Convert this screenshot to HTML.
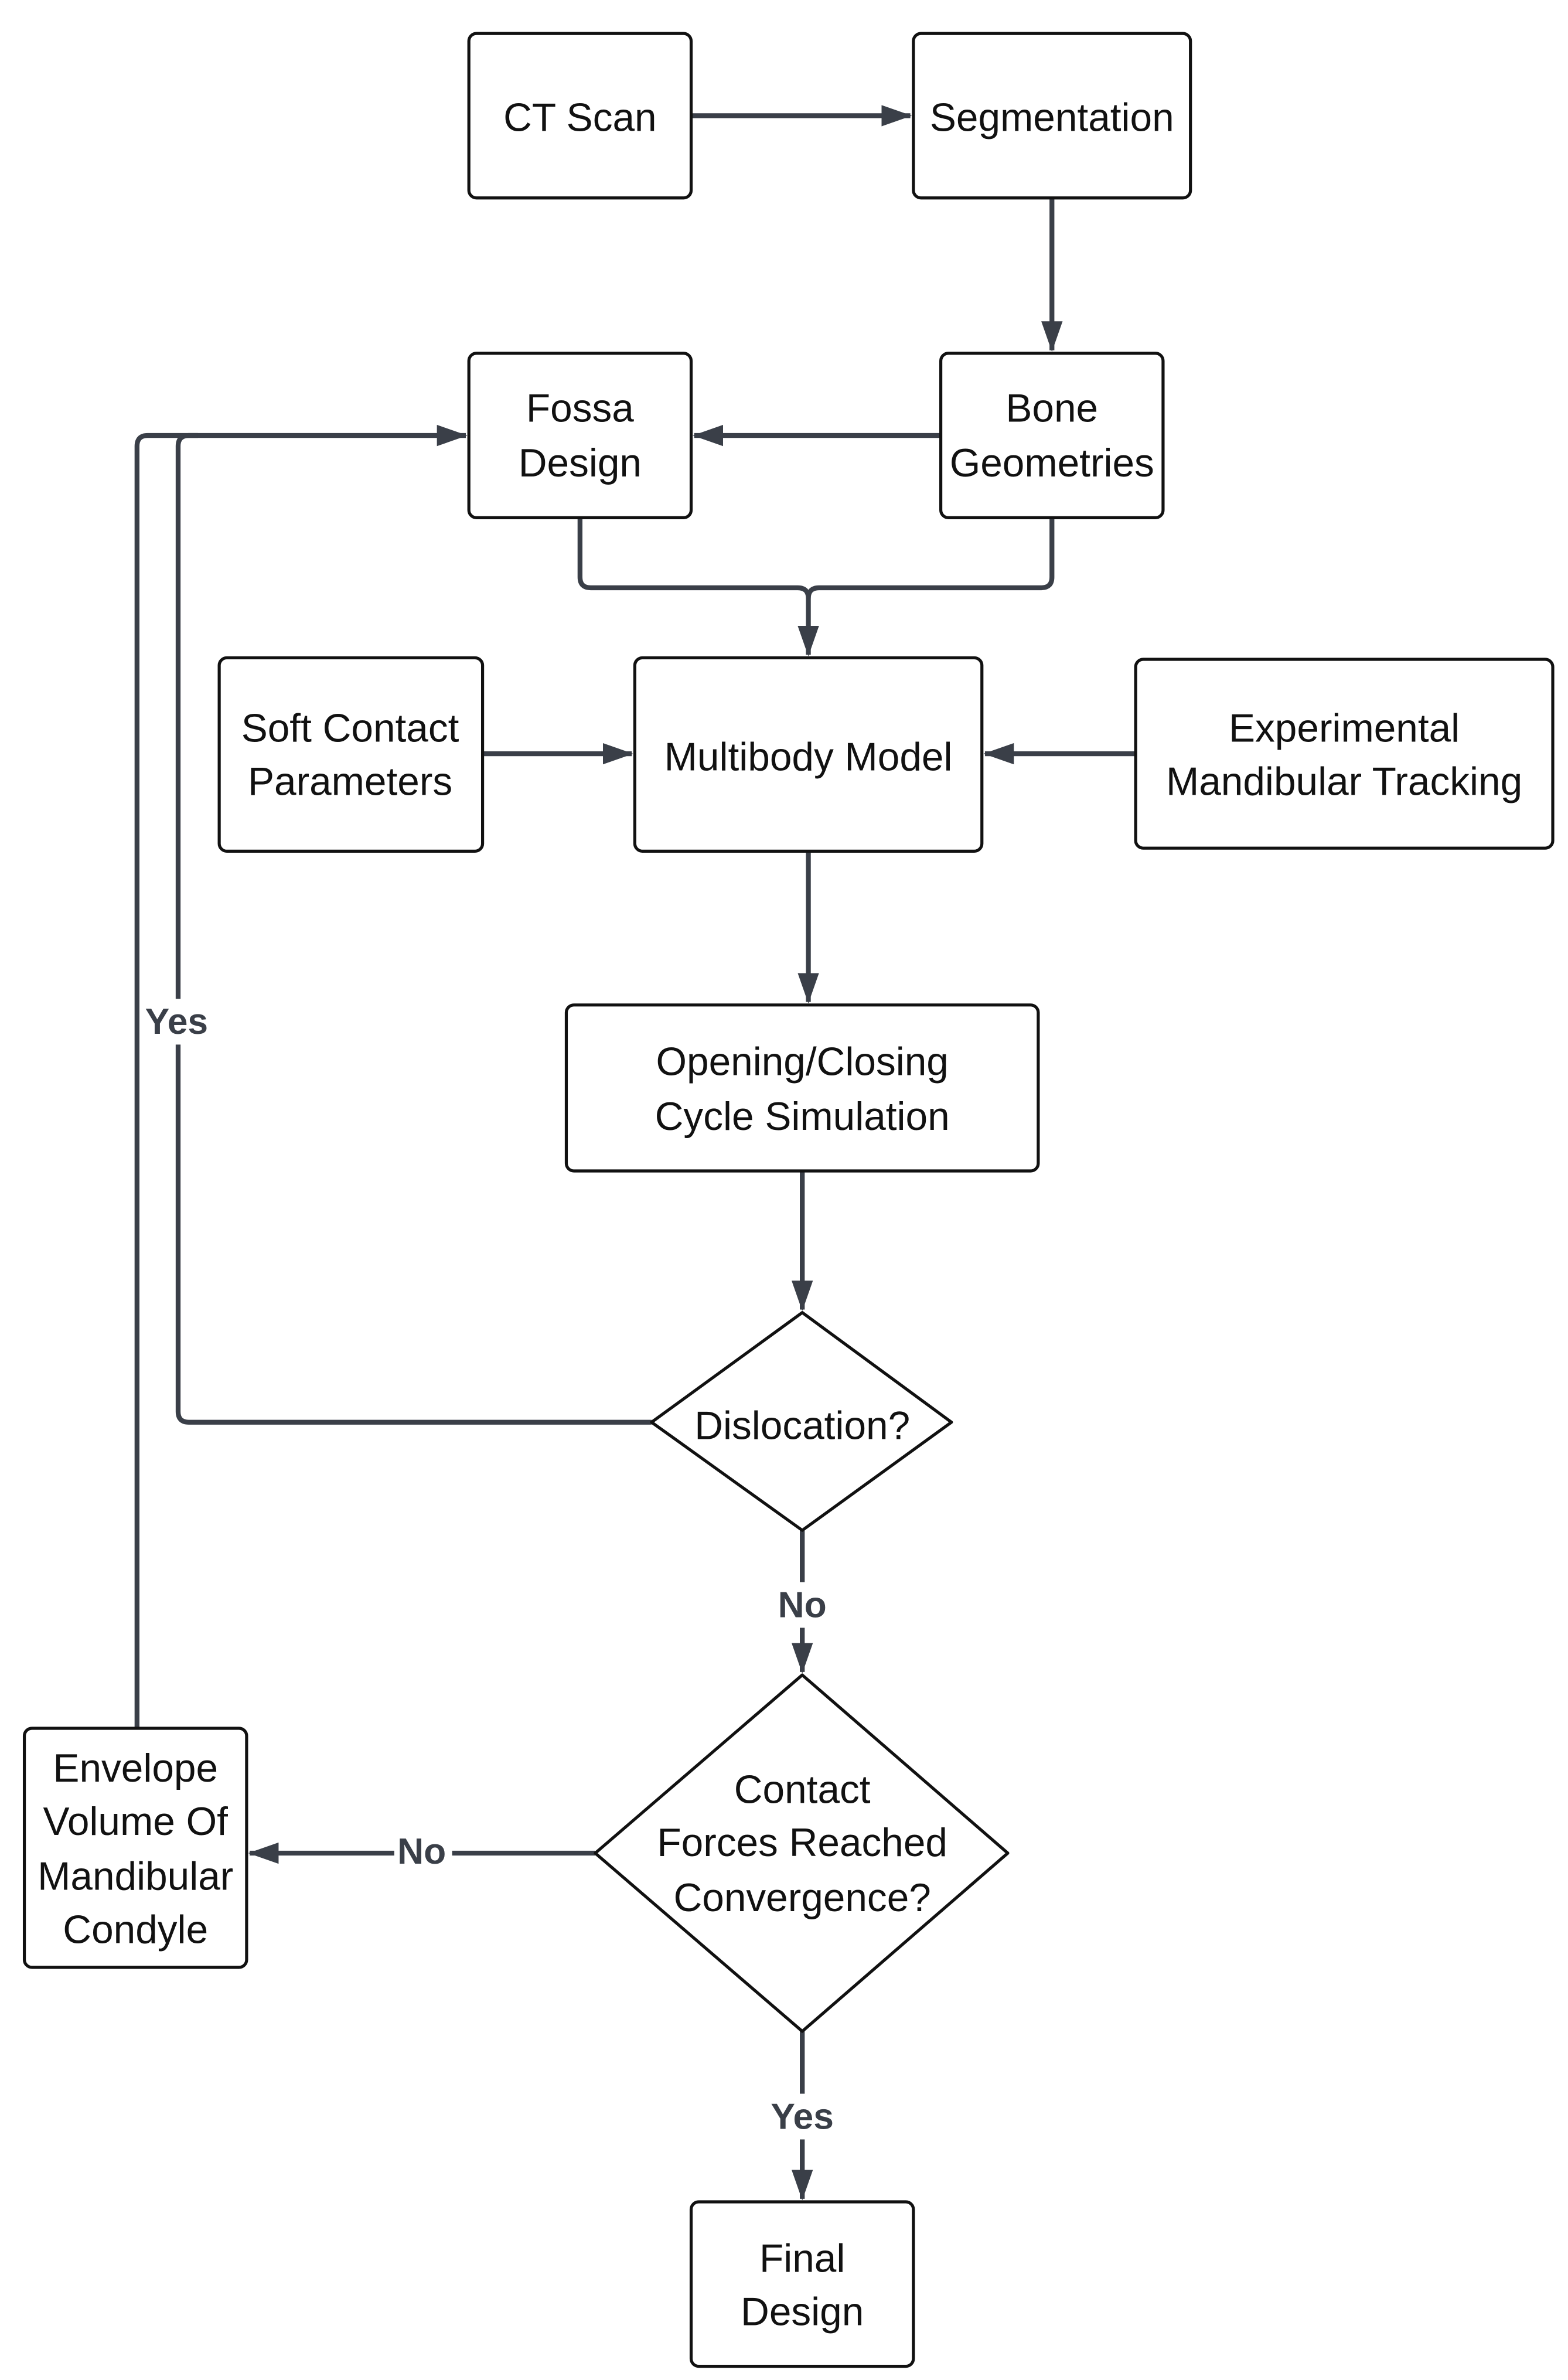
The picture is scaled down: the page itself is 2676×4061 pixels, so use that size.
<!DOCTYPE html>
<html><head><meta charset="utf-8"><style>
html,body{margin:0;padding:0;background:#fff;}
svg{display:block;}
text{font-family:"Liberation Sans",sans-serif;font-size:26px;fill:#111;text-anchor:middle;}
.b{font-weight:bold;fill:#3a3f48;font-size:24px;}
</style></head><body>
<svg width="2676" height="4061" viewBox="0 0 1030 1563" preserveAspectRatio="none" xmlns="http://www.w3.org/2000/svg">
<defs>
<marker id="h" markerWidth="20" markerHeight="14" refX="19" refY="7" orient="auto" markerUnits="userSpaceOnUse" viewBox="0 0 20 14"><path d="M0,0 L20,7 L0,14 z" fill="#3a3f48"/></marker></defs>
<g fill="none" stroke="#3a3f48" stroke-width="3.2" stroke-linejoin="round">
<path d="M454,76 H598" marker-end="url(#h)"/>
<path d="M691,130 V230" marker-end="url(#h)"/>
<path d="M618,286 H456" marker-end="url(#h)"/>
<path d="M381,340 V379 Q381,386 388,386 H524 Q531,386 531,393 V430" marker-end="url(#h)"/>
<path d="M691,340 V379 Q691,386 684,386 H538 Q531,386 531,393"/>
<path d="M317,495 H415" marker-end="url(#h)"/>
<path d="M746,495 H647" marker-end="url(#h)"/>
<path d="M531,559 V658" marker-end="url(#h)"/>
<path d="M527,769 V860" marker-end="url(#h)"/>
<path d="M428,934 H124 Q117,934 117,927 V293 Q117,286 124,286 H306" marker-end="url(#h)"/>
<path d="M90,1135 V293 Q90,286 97,286 H130"/>
<path d="M527,1005 V1098" marker-end="url(#h)"/>
<path d="M391,1217 H164" marker-end="url(#h)"/>
<path d="M527,1334 V1444" marker-end="url(#h)"/>
</g>
<g fill="#fff" stroke="#111" stroke-width="2">
<rect x="308" y="22" width="146" height="108" rx="5"/>
<rect x="600" y="22" width="182" height="108" rx="5"/>
<rect x="308" y="232" width="146" height="108" rx="5"/>
<rect x="618" y="232" width="146" height="108" rx="5"/>
<rect x="144" y="432" width="173" height="127" rx="5"/>
<rect x="417" y="432" width="228" height="127" rx="5"/>
<rect x="746" y="433" width="274" height="124" rx="5"/>
<rect x="372" y="660" width="310" height="109" rx="5"/>
<path d="M527,862 L625,934 L527,1005 L428,934 Z" stroke-linejoin="round"/>
<path d="M527,1100 L662,1217 L527,1334 L391,1217 Z" stroke-linejoin="round"/>
<rect x="16" y="1135" width="146" height="157" rx="5"/>
<rect x="454" y="1446" width="146" height="108" rx="5"/>
</g>
<g>
<text x="381" y="86">CT Scan</text>
<text x="691" y="86">Segmentation</text>
<text x="381" y="277">Fossa</text><text x="381" y="313">Design</text>
<text x="691" y="277">Bone</text><text x="691" y="313">Geometries</text>
<text x="230" y="487">Soft Contact</text><text x="230" y="522">Parameters</text>
<text x="531" y="506">Multibody Model</text>
<text x="883" y="487">Experimental</text><text x="883" y="522">Mandibular Tracking</text>
<text x="527" y="706">Opening/Closing</text><text x="527" y="742">Cycle Simulation</text>
<text x="527" y="945">Dislocation?</text>
<text x="527" y="1184">Contact</text><text x="527" y="1219">Forces Reached</text><text x="527" y="1255">Convergence?</text>
<text x="89" y="1170">Envelope</text><text x="89" y="1205">Volume Of</text><text x="89" y="1241">Mandibular</text><text x="89" y="1276">Condyle</text>
<text x="527" y="1492">Final</text><text x="527" y="1527">Design</text>
</g>
<rect x="92" y="656" width="50" height="30" fill="#fff"/>
<text class="b" x="116" y="679">Yes</text>
<rect x="506" y="1039" width="42" height="30" fill="#fff"/>
<text class="b" x="527" y="1062">No</text>
<rect x="259" y="1201" width="38" height="30" fill="#fff"/>
<text class="b" x="277" y="1224">No</text>
<rect x="502" y="1375" width="50" height="30" fill="#fff"/>
<text class="b" x="527" y="1398">Yes</text>
</svg>
</body></html>
